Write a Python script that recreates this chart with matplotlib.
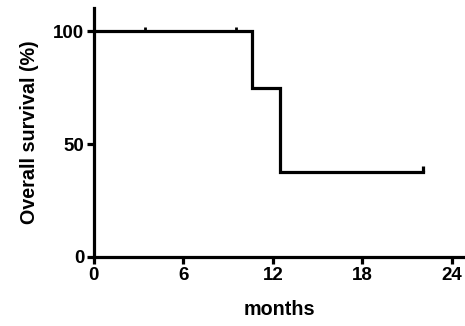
import matplotlib
matplotlib.use("Agg")
import matplotlib.pyplot as plt

# Kaplan-Meier curve
event_months = [0, 10.6, 12.5, 22.05]
survival = [100, 75, 37.5, 37.5]
censor_months = [3.4, 9.5, 22.05]
censor_surv = [100, 100, 37.5]
x_ticks = [0, 6, 12, 18, 24]
y_ticks = [0, 50, 100]

plt.rcParams['font.family'] = ['Liberation Sans', 'DejaVu Sans']
plt.rcParams['font.weight'] = 'bold'

fig = plt.figure(figsize=(4.65, 3.26), dpi=100)
ax = fig.add_axes([0.202, 0.2117, 0.798, 0.7633])

ax.step(event_months, survival, where='post', color='black', lw=2.3, solid_joinstyle='miter')
ax.plot(censor_months[:2], censor_surv[:2], ls='none', marker=2, color='black', ms=3, mew=2)
ax.plot(censor_months[2:], censor_surv[2:], ls='none', marker=2, color='black', ms=4, mew=2.3)

ax.set_xlim(0, 24.87)
ax.set_ylim(0, 110.2)
ax.set_xticks(x_ticks)
ax.set_yticks(y_ticks)
for s in ['top', 'right']:
    ax.spines[s].set_visible(False)
for s in ['left', 'bottom']:
    ax.spines[s].set_linewidth(2.3)
ax.tick_params(width=2.3, length=5, labelsize=13.5, pad=2)
ax.set_xlabel('months', fontsize=14.2, fontweight='bold', labelpad=12)
ax.set_ylabel('Overall survival (%)', fontsize=14.2, fontweight='bold', labelpad=10)

fig.savefig('out.png', dpi=100)
